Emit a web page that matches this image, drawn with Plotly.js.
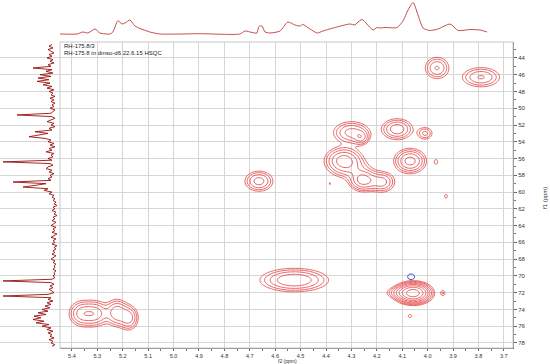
<!DOCTYPE html>
<html>
<head>
<meta charset="utf-8">
<script src="https://cdn.plot.ly/plotly-3.0.1.min.js"></script>
<style>
  html, body { margin: 0; padding: 0; background: #fff; }
  #plot { width: 550px; height: 364px; }
</style>
</head>
<body>
<div id="plot"></div>
<script>
// cross peaks (f2 = 1H ppm, f1 = 13C ppm)
const peakF2  = [3.963, 3.790, 4.120, 4.010, 4.300, 4.262, 4.330, 4.069, 3.967, 4.254, 4.180, 4.300, 3.928, 4.664, 4.525, 4.057, 3.940, 4.120, 4.070, 5.361, 5.306, 5.223, 5.176, 4.385];
const peakF1  = [45.2, 46.3, 52.5, 53.0, 52.9, 53.5, 56.2, 56.3, 56.4, 58.6, 58.8, 57.3, 60.5, 58.7, 70.5, 72.05, 72.05, 72.0, 74.8, 74.5, 74.5, 74.4, 75.0, 59.0];
const peakAmp = [3.5, 3.5, 4.5, 2.5, 4.0, 3.0, 6.0, 6.0, 1.3, 6.0, 4.0, 1.8, 1.3, 4.0, 5.0, 22, 1.6, 1.8, 1.3, 4.0, 4.0, 4.5, 4.0, 1.15];
const peakW2  = [0.029, 0.046, 0.035, 0.020, 0.042, 0.018, 0.040, 0.034, 0.008, 0.030, 0.030, 0.050, 0.008, 0.033, 0.075, 0.034, 0.008, 0.030, 0.008, 0.030, 0.030, 0.025, 0.022, 0.005];
const peakW1  = [0.80, 0.72, 0.72, 0.50, 0.78, 0.50, 0.85, 0.80, 0.35, 0.72, 0.72, 0.80, 0.30, 0.72, 0.78, 0.60, 0.30, 0.40, 0.30, 0.88, 0.88, 0.92, 0.85, 0.20];

// negative (blue) peak
const negF2  = [4.065];
const negF1  = [70.1];
const negAmp = [1.6];
const negW2  = [0.014];
const negW1  = [0.35];

// 1H projection on top: ppm and intensity
const topPpm = [5.447, 5.380, 5.357, 5.337, 5.309, 5.290, 5.250, 5.239, 5.219, 5.203, 5.191, 5.172, 5.152, 5.132, 5.093, 5.054, 4.896, 4.739, 4.719, 4.691, 4.672, 4.664, 4.652, 4.640, 4.620, 4.581, 4.550, 4.522, 4.502, 4.491, 4.463, 4.435, 4.412, 4.357, 4.306, 4.286, 4.278, 4.258, 4.239, 4.215, 4.199, 4.187, 4.168, 4.120, 4.097, 4.077, 4.057, 4.038, 4.018, 3.991, 3.959, 3.912, 3.880, 3.833, 3.794, 3.766];
const topInt = [0, 0, 2, 1, 5, 1, 0, 2, 13.3, 10, 11, 14, 8, 5.5, 2, 0, 0.3, 0, 3, 1.5, 1, 7.5, 8, 2, 1, 3, 12, 9, 8, 9.5, 5, 1, 3, 7, 10, 9, 11, 14.5, 10, 4, 6.5, 6, 6.5, 6.5, 13, 24, 31.5, 19, 6, 3.5, 5, 10, 3.5, 4.5, 4, 2];

// 13C projection on the left: sampled every 0.2 ppm from 42.4 ppm
const sideStart = 42.4;
const sideStep = 0.2;
const sideInt = [8, 11, 7, 12, 9, 6, 11, 8, 13, 7, 10, 6, 12, 9, 27, 8, 14, 7, 20, 9,
  22, 11, 23, 10, 17, 8, 13, 6, 11, 7, 9, 5, 10, 6, 9, 5, 8, 6, 10, 5,
  7, 9, 43, 8, 5, 10, 13, 6, 9, 5, 11, 8, 25, 12, 20, 31, 15, 9, 12, 6,
  10, 5, 11, 8, 14, 6, 9, 7, 12, 8, 57, 10, 7, 12, 14, 8, 11, 6, 10, 8,
  12, 9, 47, 14, 25, 37, 12, 16, 8, 11, 6, 8, 5, 7, 4, 6, 3, 7, 5, 8,
  4, 6, 3, 7, 5, 8, 4, 6, 9, 4, 7, 5, 8, 3, 6, 9, 4, 7, 5, 8,
  3, 6, 4, 7, 5, 8, 4, 6, 9, 5, 7, 4, 6, 5, 7, 4, 6, 5, 7, 5,
  8, 57, 9, 6, 10, 7, 11, 8, 6, 12, 57, 9, 12, 7, 13, 9, 15, 10, 18, 12,
  22, 14, 26, 19, 27, 16, 24, 11, 18, 9, 13, 7, 12, 8, 10, 6, 11, 7, 9, 5, 8];

const xTicks = ["5.4", "5.3", "5.2", "5.1", "5.0", "4.9", "4.8", "4.7", "4.6", "4.5", "4.4", "4.3", "4.2", "4.1", "4.0", "3.9", "3.8", "3.7"];
const yTicks = ["44", "46", "48", "50", "52", "54", "56", "58", "60", "62", "64", "66", "68", "70", "72", "74", "76", "78"];

// plot box in pixels
const W = 550, H = 364;
const px = v => v / W;
const py = v => 1 - v / H;
const f2Range = [5.447, 3.664];
const f1Range = [78.6, 42.1];

// sample grid for the contour surfaces
const gx = [], gy = [];
for (let v = 3.66; v <= 5.45; v += 0.005) gx.push(v);
for (let v = 42.0; v <= 78.7; v += 0.12) gy.push(v);

function surface(f2, f1, amp, w2, w1) {
  return gy.map(c => gx.map(h => {
    let s = 0;
    for (let i = 0; i < f2.length; i++) {
      const a = (h - f2[i]) / w2[i], b = (c - f1[i]) / w1[i];
      s += amp[i] * Math.exp(-0.5 * (a * a + b * b));
    }
    return Math.log(s + 0.01);
  }));
}

const red = "#e23b3b";
const contourPos = {
  type: "contour", x: gx, y: gy,
  z: surface(peakF2, peakF1, peakAmp, peakW2, peakW1),
  autocontour: false,
  contours: { coloring: "lines", start: 0, end: Math.log(60), size: Math.log(1.5) },
  colorscale: [[0, red], [1, red]],
  line: { width: 0.8, smoothing: 1 },
  showscale: false, hoverinfo: "skip"
};
const contourNeg = {
  type: "contour", x: gx, y: gy,
  z: surface(negF2, negF1, negAmp, negW2, negW1),
  autocontour: false,
  contours: { coloring: "lines", start: 0, end: 1, size: 1 },
  colorscale: [[0, "#2233cc"], [1, "#2233cc"]],
  line: { width: 0.9, smoothing: 1 },
  showscale: false, hoverinfo: "skip"
};

const topTrace = {
  type: "scatter", mode: "lines", x: topPpm, y: topInt,
  xaxis: "x2", yaxis: "y2",
  line: { color: "#c23a3a", width: 0.9, shape: "spline", smoothing: 0.6 },
  hoverinfo: "skip"
};

const sidePpm = sideInt.map((_, i) => sideStart + i * sideStep);
const sideTrace = {
  type: "scatter", mode: "lines", x: sideInt, y: sidePpm,
  xaxis: "x3", yaxis: "y",
  line: { color: "#9a1010", width: 0.9 },
  hoverinfo: "skip"
};

const tickFont = { family: "Liberation Sans, Arial, sans-serif", size: 6, color: "#333" };
const xTickFont = { family: "Liberation Sans, Arial, sans-serif", size: 5.5, color: "#333" };

const layout = {
  width: W, height: H,
  margin: { l: 0, r: 0, t: 0, b: 0 },
  paper_bgcolor: "#fff", plot_bgcolor: "#fff",
  showlegend: false,
  xaxis: {
    domain: [px(60), px(513)], range: f2Range, anchor: "y",
    tickmode: "array", tickvals: xTicks.map(Number), ticktext: xTicks,
    ticks: "outside", ticklen: 2, tickcolor: "#666", tickfont: xTickFont,
    minor: { dtick: 0.05, tick0: 0, ticks: "outside", ticklen: 1.5, tickcolor: "#777", showgrid: false },
    showgrid: true, gridcolor: "#d6d6d6", gridwidth: 1,
    showline: true, linecolor: "#777", linewidth: 1,
    zeroline: false
  },
  yaxis: {
    domain: [py(348), py(42)], range: f1Range, anchor: "x", side: "right",
    tickmode: "array", tickvals: yTicks.map(Number), ticktext: yTicks,
    ticks: "outside", ticklen: 3, tickcolor: "#666", tickfont: tickFont,
    minor: { dtick: 1, tick0: 0, ticks: "outside", ticklen: 2, tickcolor: "#777", showgrid: false },
    showgrid: true, gridcolor: "#d6d6d6", gridwidth: 1,
    showline: true, linecolor: "#777", linewidth: 1,
    zeroline: false
  },
  xaxis2: { domain: [px(60), px(513)], range: f2Range, anchor: "y2", visible: false },
  yaxis2: { domain: [py(36), 1], range: [-2, 34], anchor: "x2", visible: false },
  xaxis3: { domain: [0, px(60)], range: [60, 0], anchor: "y", visible: false },
  shapes: [
    { type: "rect", xref: "paper", yref: "paper", x0: px(60), x1: px(513), y0: py(348), y1: py(42),
      line: { color: "#c8c8c8", width: 1 } }
  ],
  annotations: [
    { xref: "paper", yref: "paper", x: px(62), y: py(41), xanchor: "left", yanchor: "top",
      text: "RH-175.8/3", showarrow: false, font: { family: "Liberation Sans, Arial, sans-serif", size: 6, color: "#222" } },
    { xref: "paper", yref: "paper", x: px(62), y: py(47.5), xanchor: "left", yanchor: "top",
      text: "RH-175.8 in dmso-d6 22.6.15 HSQC", showarrow: false, font: { family: "Liberation Sans, Arial, sans-serif", size: 6, color: "#222" } },
    { xref: "paper", yref: "paper", x: px(287), y: py(365), xanchor: "center", yanchor: "bottom",
      text: "f2 (ppm)", showarrow: false, borderpad: 0,
      font: { family: "Liberation Sans, Arial, sans-serif", size: 5, color: "#333" } },
    { xref: "paper", yref: "paper", x: px(545), y: py(198), xanchor: "center", yanchor: "middle", textangle: -90,
      text: "f1 (ppm)", showarrow: false, font: { family: "Liberation Sans, Arial, sans-serif", size: 6, color: "#333" } }
  ]
};

Plotly.newPlot("plot", [contourPos, contourNeg, topTrace, sideTrace], layout, { staticPlot: true, displayModeBar: false });
</script>
</body>
</html>
